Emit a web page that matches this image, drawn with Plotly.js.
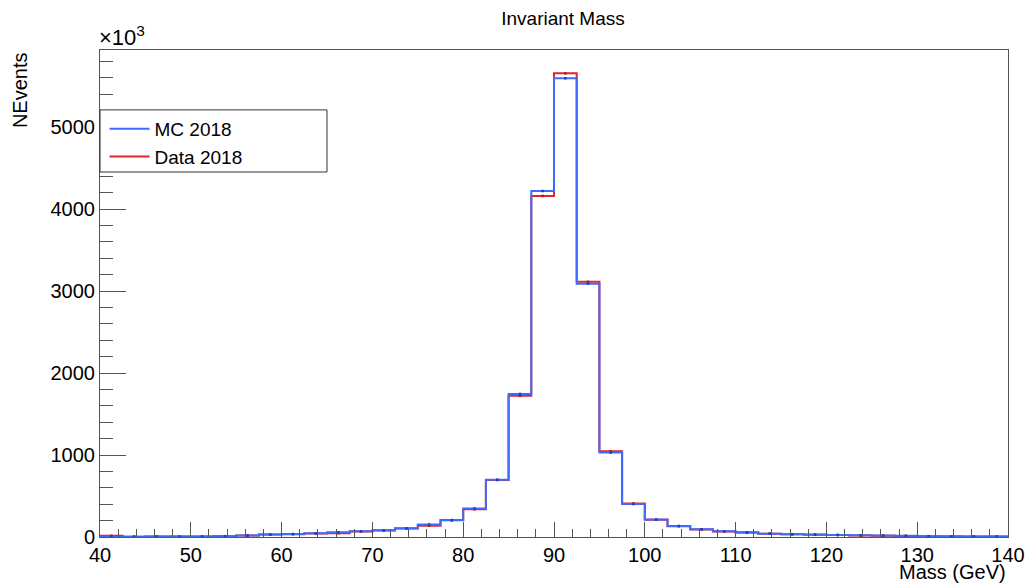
<!DOCTYPE html>
<html>
<head>
<meta charset="utf-8">
<script src="https://cdn.plot.ly/plotly-3.0.1.min.js"></script>
<style>html,body{margin:0;padding:0;background:#fff;}#chart{width:1030px;height:588px;}</style>
</head>
<body>
<div id="chart"></div>
<script>
// Bin edges (GeV): 40 .. 140 in 2.5 GeV steps
const binLow = 40, binWidth = 2.5, nBins = 40;
// Events per bin (units of 10^3)
const mc2018 = [4, 4, 5, 5, 6, 10, 18, 30, 36, 45,
                58, 70, 82, 106, 152, 207, 348, 698, 1745, 4220,
                5595, 3090, 1030, 402, 213, 134, 95, 70, 52, 41,
                34, 29, 25, 20, 17, 14, 10, 8, 7, 6];
const data2018 = [14, 4, 5, 5, 6, 9, 17, 29, 35, 44,
                  46, 68, 80, 104, 138, 204, 338, 695, 1722, 4160,
                  5655, 3112, 1045, 408, 210, 132, 93, 68, 58, 40,
                  33, 28, 24, 19, 16, 13, 9, 7, 6, 5];
const seriesNames = ["MC 2018", "Data 2018"];
const yTickVals = [0, 1000, 2000, 3000, 4000, 5000];

const edges = [];
for (let i = 0; i <= nBins; i++) edges.push(binLow + i * binWidth);
const centers = edges.slice(0, nBins).map(e => e + binWidth / 2);

function stepTrace(vals, name, color) {
  return {
    x: [edges[0]].concat(edges),
    y: [0].concat(vals, [vals[vals.length - 1]]),
    type: 'scatter', mode: 'lines', name: name,
    line: {shape: 'hv', color: color, width: 2},
    hoverinfo: 'skip'
  };
}
function markTrace(vals, color) {
  return {
    x: centers, y: vals, type: 'scatter', mode: 'markers', showlegend: false,
    marker: {symbol: 'square', size: 2.5, color: color, line: {width: 0}},
    hoverinfo: 'skip'
  };
}
const blue = '#3d6bff', red = '#e0262b';
const traces = [
  stepTrace(data2018, seriesNames[1], red),
  markTrace(data2018, '#b01818'),
  stepTrace(mc2018, seriesNames[0], blue),
  markTrace(mc2018, '#1a3fc0')
];

const font = 'Liberation Sans, Arial, Helvetica, sans-serif';
const layout = {
  width: 1030, height: 588,
  margin: {l: 100, r: 22, t: 50, b: 51},
  paper_bgcolor: '#fff', plot_bgcolor: '#fff',
  font: {family: font, color: '#000', size: 20},
  title: {text: 'Invariant Mass', x: 0.5466, xref: 'container', xanchor: 'center',
          y: 0.969, yref: 'container', yanchor: 'middle', font: {size: 19, family: font}},
  showlegend: true,
  legend: {x: 0.005, y: 0.877, xanchor: 'left', yanchor: 'top', traceorder: 'reversed',
           bgcolor: 'rgba(0,0,0,0)', borderwidth: 0, font: {size: 19, family: font},
           itemwidth: 40},
  xaxis: {
    range: [40, 140], tick0: 40, dtick: 10, ticks: 'inside', ticklen: 15, tickwidth: 1,
    tickcolor: '#555', showline: true, linecolor: '#555', linewidth: 1, mirror: true,
    showgrid: false, zeroline: false, tickfont: {size: 20},
    minor: {dtick: 2, tick0: 40, ticks: 'inside', ticklen: 8, tickcolor: '#555', showgrid: false}
  },
  yaxis: {
    range: [0, 5940], tickvals: yTickVals, ticktext: yTickVals.map(String),
    ticks: 'inside', ticklen: 26, tickwidth: 1,
    tickcolor: '#555', showline: true, linecolor: '#555', linewidth: 1, mirror: true,
    showgrid: false, zeroline: false, tickfont: {size: 20},
    minor: {dtick: 200, tick0: 0, ticks: 'inside', ticklen: 13, tickcolor: '#555', showgrid: false}
  },
  shapes: [
    {type: 'rect', xref: 'paper', yref: 'paper', x0: 0, x1: 0.25, y0: 0.7495, y1: 0.877,
     line: {color: '#333', width: 1}, fillcolor: 'rgba(255,255,255,1)', layer: 'above'}
  ],
  annotations: [
    {text: 'NEvents', textangle: -90, xref: 'paper', yref: 'paper', x: -0.088, y: 1.0,
     xanchor: 'center', yanchor: 'top', showarrow: false, font: {size: 20, family: font}},
    {text: 'Mass (GeV)', xref: 'paper', yref: 'paper', x: 1.0, y: -0.072,
     xanchor: 'right', yanchor: 'middle', showarrow: false, font: {size: 20, family: font}},
    {text: '\u00d710<sup>3</sup>', xref: 'paper', yref: 'paper', x: -0.003, y: 0.995,
     xanchor: 'left', yanchor: 'bottom', showarrow: false, font: {size: 22, family: font}}
  ]
};
Plotly.newPlot('chart', traces, layout, {displayModeBar: false, staticPlot: true});
</script>
</body>
</html>
